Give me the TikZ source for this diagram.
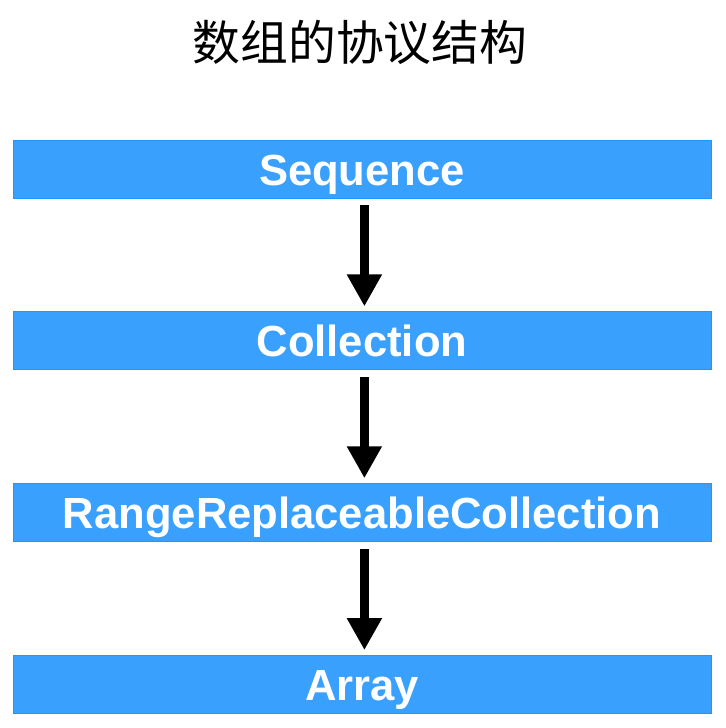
\documentclass[tikz,border=0pt]{standalone}
\usepackage{fontspec}
\setmainfont{Liberation Sans}
\newfontfamily\cjk{Noto Sans CJK SC}
\usepackage{tikz}
\usetikzlibrary{arrows.meta,positioning}
\usepackage{xcolor}
\definecolor{barblue}{RGB}{58,160,253}
\definecolor{baredge}{RGB}{30,150,255}

\begin{document}
\begin{tikzpicture}[
    bar/.style={draw=baredge, line width=0.6pt, fill=barblue, minimum width=17.45cm,
                minimum height=1.45cm, inner sep=0pt, text=white,
                text height=0.8cm, text depth=0pt,
                font=\fontsize{31}{36}\selectfont\bfseries},
    arr/.style={-{Triangle[width=0.825cm, length=0.8cm]}, line width=0.225cm,
                shorten <=0.175cm, shorten >=0.125cm}
]
\useasboundingbox (0,0) rectangle (18.15,-18.2);
\node[font=\cjk\fontsize{34}{40}\selectfont] (title) at (9.0,-1.05) {数组的协议结构};

\node[bar] (seq) at (9.05,-4.225) {Sequence};
\node[bar, below=2.825cm of seq] (coll) {Collection};
\node[bar, below=2.825cm of coll] (rrc) {RangeReplaceableCollection};
\node[bar, below=2.825cm of rrc] (arr) {Array};

\draw[arr] ([xshift=0.06cm]seq.south) -- ([xshift=0.06cm]coll.north);
\draw[arr] ([xshift=0.06cm]coll.south) -- ([xshift=0.06cm]rrc.north);
\draw[arr] ([xshift=0.06cm]rrc.south) -- ([xshift=0.06cm]arr.north);
\end{tikzpicture}
\end{document}
